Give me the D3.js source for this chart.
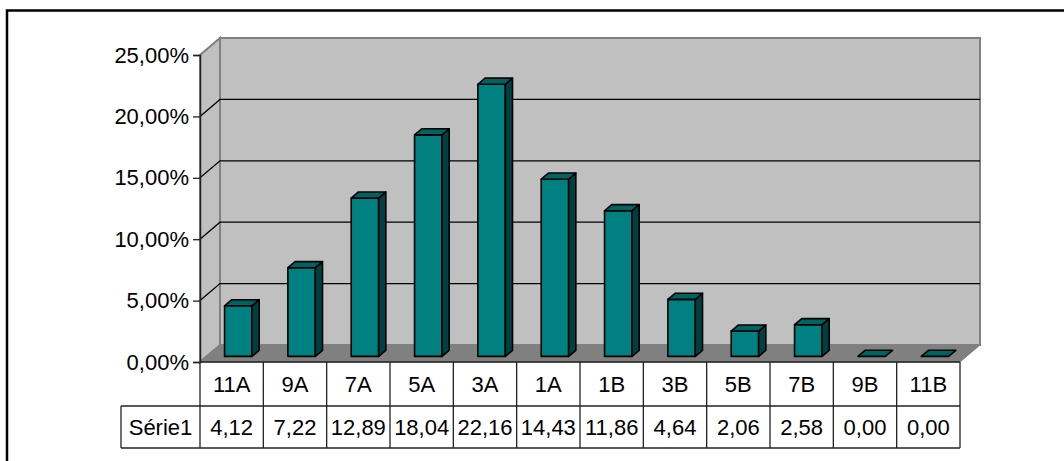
<!DOCTYPE html>
<html>
<head>
<meta charset="utf-8">
<script src="https://cdn.jsdelivr.net/npm/d3@7"></script>
<style>
  html, body { margin: 0; padding: 0; background: #fff; }
  svg { display: block; }
  text { font-family: "Liberation Sans", Arial, sans-serif; }
</style>
</head>
<body>
<svg id="chart" width="1064" height="461"></svg>
<script>
// Distribution by category (percent)
const categories = ["11A", "9A", "7A", "5A", "3A", "1A", "1B", "3B", "5B", "7B", "9B", "11B"];
const values = [4.12, 7.22, 12.89, 18.04, 22.16, 14.43, 11.86, 4.64, 2.06, 2.58, 0.00, 0.00];
const seriesName = "Série1";
const yTicks = [0, 5, 10, 15, 20, 25];

(function () {
const svg = d3.select("#chart");

// Front plane of the 3D plot box
const plotLeft = 200, plotRight = 960, plotTop = 55, plotBottom = 362;
// Depth vector from the front plane to the back wall
const DX = 20, DY = -17;
// Bar depth placement (fractions of the box depth)
const barFront = 0.33, barBack = 0.69;

const locale = d3.formatLocale({ decimal: ",", thousands: ".", grouping: [3], currency: ["", ""] });
const fmtPct = v => locale.format(".2f")(v) + "%";
const fmtVal = locale.format(".2f");

const x = d3.scaleBand().domain(categories).range([plotLeft, plotRight])
  .paddingInner(0.567).paddingOuter(0.2835);
const slot = d3.scaleBand().domain(categories).range([plotLeft, plotRight]);
const y = d3.scaleLinear().domain([0, 25]).range([plotBottom, plotTop]);

const wallFill = "#c0c0c0", wallEdge = "#808080";

// Back wall
svg.append("rect")
  .attr("x", plotLeft + DX).attr("y", plotTop + DY)
  .attr("width", plotRight - plotLeft).attr("height", plotBottom - plotTop)
  .attr("fill", wallFill).attr("stroke", wallEdge).attr("stroke-width", 2);

// Side wall
svg.append("path")
  .attr("d", `M${plotLeft},${plotTop} L${plotLeft + DX},${plotTop + DY} L${plotLeft + DX},${plotBottom + DY} L${plotLeft},${plotBottom} Z`)
  .attr("fill", wallFill).attr("stroke", wallEdge).attr("stroke-width", 2);

// Floor
svg.append("path")
  .attr("d", `M${plotLeft},${plotBottom} L${plotLeft + DX},${plotBottom + DY} L${plotRight + DX},${plotBottom + DY} L${plotRight},${plotBottom} Z`)
  .attr("fill", "#808080").attr("stroke", "#808080").attr("stroke-width", 1);

// Gridlines on side and back walls
const grid = yTicks.filter(t => t > 0 && t < 25);
svg.append("g").selectAll("path").data(grid).join("path")
  .attr("d", t => `M${plotLeft},${y(t)} L${plotLeft + DX},${y(t) + DY} L${plotRight + DX},${y(t) + DY}`)
  .attr("fill", "none").attr("stroke", "#000").attr("stroke-width", 1.3);

// Bars as 3D columns
const bars = svg.append("g");
categories.forEach((c, i) => {
  const v = values[i];
  const fx = x(c) + DX * barFront;
  const fyb = y(0) + DY * barFront;
  const w = x.bandwidth();
  const h = y(0) - y(v);
  const fyt = fyb - h;
  const ddx = DX * (barBack - barFront), ddy = DY * (barBack - barFront);
  const g = bars.append("g").attr("stroke", "#000").attr("stroke-width", 1.6).attr("stroke-linejoin", "round");
  if (h > 0.5) {
    g.append("rect").attr("x", fx).attr("y", fyt).attr("width", w).attr("height", h).attr("fill", "#008080");
    g.append("path")
      .attr("d", `M${fx + w},${fyt} L${fx + w + ddx},${fyt + ddy} L${fx + w + ddx},${fyb + ddy} L${fx + w},${fyb} Z`)
      .attr("fill", "#004040");
  }
  g.append("path")
    .attr("d", `M${fx},${fyt} L${fx + ddx},${fyt + ddy} L${fx + w + ddx},${fyt + ddy} L${fx + w},${fyt} Z`)
    .attr("fill", "#006363");
});

// Value axis
const yAxis = d3.axisLeft(y).tickValues(yTicks).tickSize(7).tickPadding(4).tickFormat(fmtPct);
const ax = svg.append("g").attr("transform", `translate(${plotLeft},0)`).call(yAxis);
ax.select(".domain").attr("stroke", "#222").attr("stroke-width", 1.5);
ax.selectAll(".tick line").attr("stroke", "#222").attr("stroke-width", 1.3);
ax.selectAll(".tick text").attr("font-size", 22).attr("fill", "#000")
  .attr("font-family", "'Liberation Sans', Arial, sans-serif");

// Data table below the plot
const row1Top = plotBottom, row1Bot = 406, row2Bot = 448, nameLeft = 121;
const tbl = svg.append("g").attr("stroke", "#222").attr("stroke-width", 1.3);
tbl.append("line").attr("x1", plotLeft).attr("x2", plotRight).attr("y1", row1Top).attr("y2", row1Top);
tbl.append("line").attr("x1", nameLeft).attr("x2", plotRight).attr("y1", row1Bot).attr("y2", row1Bot);
tbl.append("line").attr("x1", nameLeft).attr("x2", plotRight).attr("y1", row2Bot).attr("y2", row2Bot);
tbl.append("line").attr("x1", nameLeft).attr("x2", nameLeft).attr("y1", row1Bot).attr("y2", row2Bot);
tbl.selectAll("line.v").data(categories.concat(["end"])).join("line").attr("class", "v")
  .attr("x1", (c, i) => plotLeft + i * slot.step()).attr("x2", (c, i) => plotLeft + i * slot.step())
  .attr("y1", row1Top).attr("y2", row2Bot);

const txt = svg.append("g").attr("font-size", 22).attr("fill", "#000").attr("text-anchor", "middle");
txt.selectAll("text.cat").data(categories).join("text").attr("class", "cat")
  .attr("x", c => slot(c) + slot.bandwidth() / 2).attr("y", (row1Top + row1Bot) / 2)
  .attr("dy", "0.36em").text(c => c);
txt.selectAll("text.val").data(values).join("text").attr("class", "val")
  .attr("x", (v, i) => slot(categories[i]) + slot.bandwidth() / 2).attr("y", (row1Bot + row2Bot) / 2)
  .attr("dy", "0.36em").text(v => fmtVal(v));
txt.append("text").attr("x", (nameLeft + plotLeft) / 2).attr("y", (row1Bot + row2Bot) / 2)
  .attr("dy", "0.36em").text(seriesName);

// Chart area frame
svg.append("path").attr("d", "M7,470 L7,10.5 L1070,10.5")
  .attr("fill", "none").attr("stroke", "#000").attr("stroke-width", 2.5);
})();
</script>
</body>
</html>
